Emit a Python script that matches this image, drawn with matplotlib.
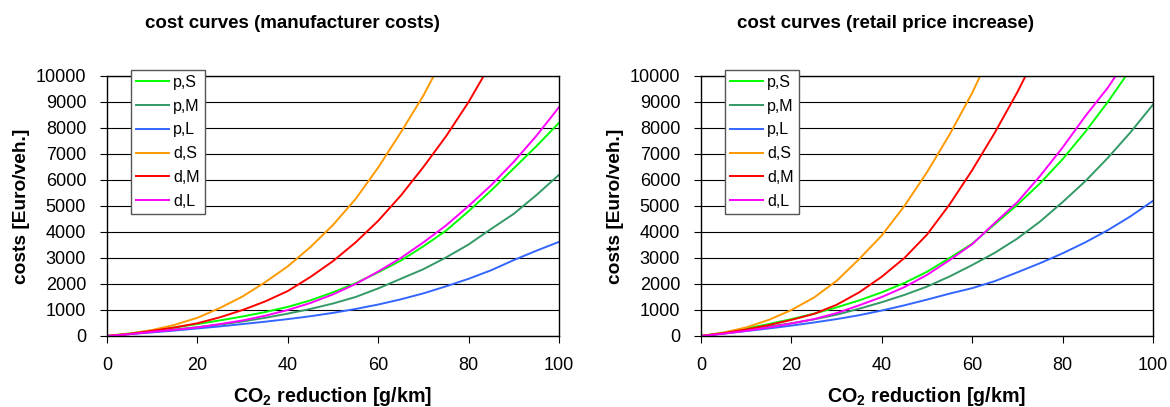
import matplotlib
matplotlib.use("Agg")
import matplotlib.pyplot as plt
import numpy as np

plt.rcParams['font.family'] = ['Liberation Sans', 'DejaVu Sans']
plt.rcParams['mathtext.fontset'] = 'custom'
plt.rcParams['mathtext.rm'] = 'Liberation Sans'
plt.rcParams['mathtext.bf'] = 'Liberation Sans:bold'

# CO2 reduction steps [g/km]
co2_red = [0, 5, 10, 15, 20, 25, 30, 35, 40, 45, 50, 55, 60, 65, 70, 75, 80, 85, 90, 95, 100]

# manufacturer costs [Euro/veh.]
mf_pS = [0, 100, 210, 330, 460, 600, 750, 920, 1120, 1370, 1680, 2030, 2450, 2900, 3450, 4050, 4800, 5600, 6450, 7300, 8200]
mf_pM = [0, 80, 160, 250, 340, 440, 560, 700, 860, 1040, 1250, 1500, 1830, 2200, 2570, 3020, 3520, 4120, 4700, 5420, 6200]
mf_pL = [0, 70, 140, 210, 290, 370, 460, 550, 650, 760, 890, 1040, 1210, 1410, 1640, 1910, 2200, 2530, 2920, 3280, 3620]
mf_dS = [0, 90, 230, 430, 700, 1080, 1520, 2070, 2680, 3420, 4270, 5270, 6480, 7830, 9250, 10900]
mf_dM = [0, 80, 200, 330, 490, 720, 1000, 1330, 1730, 2270, 2880, 3600, 4430, 5400, 6500, 7680, 9000, 10500]
mf_dL = [0, 70, 160, 240, 330, 460, 600, 780, 1000, 1270, 1600, 2000, 2480, 3000, 3600, 4250, 5000, 5800, 6700, 7700, 8800]

# retail price increase [Euro/veh.]
rp_pS = [0, 130, 290, 460, 650, 860, 1100, 1370, 1680, 2040, 2470, 3000, 3550, 4300, 5050, 5870, 6800, 7850, 9000, 10250]
rp_pM = [0, 110, 230, 360, 490, 640, 820, 1050, 1300, 1580, 1900, 2290, 2730, 3200, 3750, 4400, 5150, 5950, 6850, 7830, 8900]
rp_pL = [0, 90, 190, 290, 400, 520, 650, 800, 980, 1180, 1400, 1630, 1840, 2110, 2450, 2800, 3180, 3600, 4070, 4600, 5200]
rp_dS = [0, 130, 330, 620, 1000, 1480, 2120, 2960, 3870, 5000, 6300, 7750, 9350, 11200]
rp_dM = [0, 110, 250, 420, 620, 850, 1200, 1680, 2280, 3000, 3900, 5060, 6380, 7820, 9380, 11100]
rp_dL = [0, 90, 200, 330, 480, 650, 880, 1180, 1500, 1880, 2350, 2920, 3530, 4350, 5150, 6150, 7250, 8450, 9550, 10850]

labels = ["p,S", "p,M", "p,L", "d,S", "d,M", "d,L"]
colors = ["#00ff00", "#339966", "#3366ff", "#ff9900", "#ff0000", "#ff00ff"]

panels = [
    ("cost curves (manufacturer costs)", [mf_pS, mf_pM, mf_pL, mf_dS, mf_dM, mf_dL]),
    ("cost curves (retail price increase)", [rp_pS, rp_pM, rp_pL, rp_dS, rp_dM, rp_dL]),
]

fig = plt.figure(figsize=(11.7, 4.07), dpi=100)
ax_lefts = [107 / 1170, 701 / 1170]
title_x = [0.25, 0.757]

for i, (title, series) in enumerate(panels):
    ax = fig.add_axes([ax_lefts[i], 1 - 336 / 407, 452 / 1170, 260 / 407])
    for vals, lab, col in zip(series, labels, colors):
        ax.plot(co2_red[:len(vals)], vals, color=col, lw=1.4, label=lab)
    ax.set_xlim(0, 100)
    ax.set_ylim(0, 10000)
    ax.set_xticks(np.arange(0, 101, 20))
    ax.set_yticks(np.arange(0, 10001, 1000))
    ax.yaxis.grid(True, color="black", lw=0.8)
    ax.set_axisbelow(True)
    for s in ax.spines.values():
        s.set_color("black")
        s.set_linewidth(1.0)
    ax.tick_params(axis="both", labelsize=13, length=5, width=0.8, direction="out", color="black")
    ax.tick_params(axis="y", pad=10)
    ax.tick_params(axis="x", pad=10)
    ax.set_ylabel("costs [Euro/veh.]", fontsize=13.8, fontweight="bold", labelpad=4)
    ax.set_xlabel(r"$\mathbf{CO_2}$ reduction [g/km]", fontsize=14.2, fontweight="bold", labelpad=8)
    leg = ax.legend(loc="upper left", bbox_to_anchor=(0.053, 1.023), fontsize=11.5,
                    frameon=True, fancybox=False, edgecolor="#555555", framealpha=1,
                    handlelength=2.1, handletextpad=0.25, labelspacing=0.55,
                    borderpad=0.3, borderaxespad=0)
    leg.get_frame().set_linewidth(1.0)
    fig.text(title_x[i], 1 - 23 / 407, title, ha="center", va="center",
             fontsize=13.5, fontweight="bold")

fig.savefig("out.png", dpi=100, facecolor="white")
